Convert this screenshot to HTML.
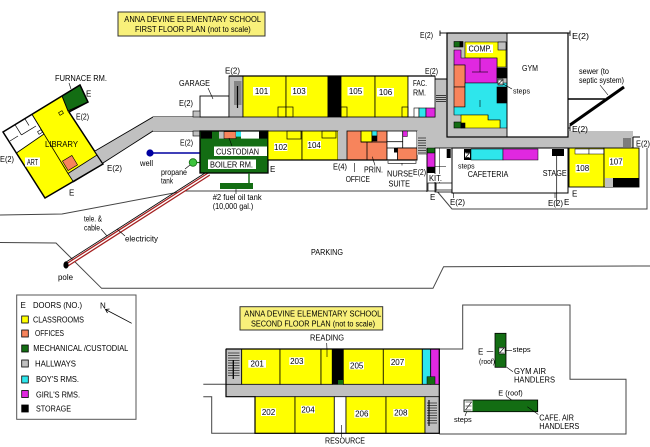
<!DOCTYPE html>
<html><head><meta charset="utf-8">
<style>
html,body{margin:0;padding:0;background:#fff;width:650px;height:447px;overflow:hidden}
svg{display:block}
text{font-family:"Liberation Sans",Arial,sans-serif;font-size:8px;fill:#000}
.s{font-size:7px}
</style></head><body>
<svg width="650" height="447" viewBox="0 0 650 447" xmlns="http://www.w3.org/2000/svg">
<rect width="650" height="447" fill="#fff"/>

<!-- FIRST FLOOR TITLE -->
<rect x="118" y="12" width="147" height="24" fill="#f8f07a" stroke="#333" stroke-width="1"/>
<text x="124.3" y="22" textLength="136.7" lengthAdjust="spacingAndGlyphs">ANNA DEVINE ELEMENTARY SCHOOL</text>
<text x="135" y="32" textLength="115.7" lengthAdjust="spacingAndGlyphs">FIRST FLOOR PLAN (not to scale)</text>

<!-- SITE LINES -->
<polyline points="0,215 62,214 184.5,191 427,191" fill="none" stroke="#444" stroke-width="1"/>
<polyline points="0,242.5 56,243 101.6,288.3 433,288.3 443.6,266.7 650,266" fill="none" stroke="#444" stroke-width="1"/>
<polyline points="647,148 647,209 452,209 436,190" fill="none" stroke="#444" stroke-width="1"/>

<!-- ELECTRIC / TELE LINE -->
<line x1="67" y1="265" x2="209" y2="174" stroke="#a52020" stroke-width="4"/>
<line x1="67" y1="265" x2="209" y2="174" stroke="#fff" stroke-width="1.4"/>
<line x1="65.4" y1="262.5" x2="207.4" y2="171.5" stroke="#000" stroke-width="0.8"/>
<ellipse cx="66" cy="265" rx="2.6" ry="3.6" fill="#000"/>
<text x="58" y="280" textLength="15" lengthAdjust="spacingAndGlyphs">pole</text>
<text x="84" y="221.5" textLength="18" lengthAdjust="spacingAndGlyphs">tele. &amp;</text>
<text x="84" y="230.5" textLength="16" lengthAdjust="spacingAndGlyphs">cable</text>
<line x1="101" y1="229" x2="107" y2="236" stroke="#000" stroke-width="0.6"/>
<text x="125" y="241.5" textLength="33" lengthAdjust="spacingAndGlyphs">electricity</text>
<line x1="117" y1="229" x2="125" y2="236" stroke="#000" stroke-width="0.6"/>
<text x="311" y="255" textLength="32" lengthAdjust="spacingAndGlyphs">PARKING</text>

<!-- LEFT WING: LIBRARY / ART -->
<polygon points="3,132 80,85 88,102 69,112 103,164 45,198" fill="#ff0"/>
<polygon points="3,132 32,114.3 44,134 16.4,153" fill="#fff" stroke="#000" stroke-width="0.8"/>
<line x1="15" y1="124.7" x2="21.4" y2="134.9" stroke="#000" stroke-width="0.7"/>
<line x1="21.4" y1="134.9" x2="36" y2="126" stroke="#000" stroke-width="0.7"/>
<line x1="25" y1="118.9" x2="29" y2="125.5" stroke="#000" stroke-width="0.7"/>
<line x1="10" y1="141" x2="18" y2="136" stroke="#000" stroke-width="0.7"/>
<rect x="-2" y="-1.5" width="4" height="3" transform="translate(40,132) rotate(-31)" fill="none" stroke="#000" stroke-width="0.6"/>
<rect x="-2" y="-1.5" width="4" height="3" transform="translate(61,113) rotate(-31)" fill="none" stroke="#000" stroke-width="0.6"/>
<line x1="32" y1="114.3" x2="68" y2="173.5" stroke="#000" stroke-width="0.8"/>
<polygon points="68,173.5 97,155 103,164 73.5,182" fill="#c0c0c0" stroke="#000" stroke-width="0.8"/>
<rect x="-5.5" y="-5.5" width="11" height="11" transform="translate(70,163) rotate(-31)" fill="#f7845c" stroke="#000" stroke-width="0.6"/>
<polygon points="62,96 80,85 88,102 68,111" fill="#136d13" stroke="#000" stroke-width="1"/>
<polygon points="3,132 80,85 88,102 69,112 103,164 45,198" fill="none" stroke="#000" stroke-width="1.5"/>
<text x="45" y="147" textLength="33" lengthAdjust="spacingAndGlyphs">LIBRARY</text>
<rect x="25" y="157.5" width="15" height="9" fill="#fff"/>
<text x="27" y="165" textLength="11" lengthAdjust="spacingAndGlyphs">ART</text>
<text x="55" y="81" textLength="52" lengthAdjust="spacingAndGlyphs">FURNACE RM.</text>
<line x1="69" y1="83" x2="71" y2="89" stroke="#000" stroke-width="0.6"/>
<text x="86" y="96.5">E</text>
<text x="76" y="119.5" textLength="13" lengthAdjust="spacingAndGlyphs">E(2)</text>
<text x="0" y="162" textLength="14" lengthAdjust="spacingAndGlyphs">E(2)</text>
<text x="69" y="195.5">E</text>
<text x="107" y="171" textLength="15" lengthAdjust="spacingAndGlyphs">E(2)</text>

<!-- CORRIDOR & HALLWAYS -->
<polygon points="95,151 153,117 200,117 200,131 153,131 103,163" fill="#c0c0c0"/>
<polyline points="95,151 153,117 200,117" fill="none" stroke="#000" stroke-width="0.9"/>
<polyline points="103,163 153,131 200,131" fill="none" stroke="#000" stroke-width="0.9"/>
<rect x="153" y="117" width="295" height="14" fill="#c0c0c0"/>
<rect x="427" y="131" width="206" height="17" fill="#c0c0c0"/>
<rect x="435" y="79" width="13" height="52" fill="#c0c0c0"/>
<polyline points="435,76 435,79 447,79" fill="none" stroke="#000" stroke-width="0.9"/>
<g stroke="#000" stroke-width="0.7">
<line x1="436" y1="95.5" x2="446" y2="95.5"/><line x1="436" y1="97.5" x2="446" y2="97.5"/>
<line x1="436" y1="99.5" x2="446" y2="99.5"/><line x1="436" y1="101.5" x2="446" y2="101.5"/>
<line x1="624" y1="138" x2="624" y2="147"/><line x1="626" y1="138" x2="626" y2="147"/>
<line x1="628" y1="138" x2="628" y2="147"/><line x1="630" y1="138" x2="630" y2="147"/>
</g>
<line x1="633" y1="137" x2="633" y2="148" stroke="#000" stroke-width="1"/>
<line x1="633" y1="137" x2="640" y2="137" stroke="#000" stroke-width="1"/>

<!-- well / propane -->
<line x1="153" y1="153" x2="200" y2="153" stroke="#0000a0" stroke-width="1.5"/>
<circle cx="150" cy="153" r="3.6" fill="#0000a0"/>
<line x1="196" y1="162.5" x2="200" y2="162.5" stroke="#136d13" stroke-width="1.2"/>
<circle cx="193" cy="162.5" r="3.8" fill="#3cc43c" stroke="#136d13" stroke-width="0.8"/>
<text x="140" y="166" textLength="13" lengthAdjust="spacingAndGlyphs">well</text>
<text x="161" y="175" textLength="26" lengthAdjust="spacingAndGlyphs">propane</text>
<text x="161" y="183.5" textLength="12" lengthAdjust="spacingAndGlyphs">tank</text>
<line x1="185" y1="169" x2="190" y2="165" stroke="#000" stroke-width="0.6"/>

<!-- GARAGE -->
<rect x="200" y="96" width="29" height="21" fill="#fff" stroke="#000" stroke-width="0.9"/>
<rect x="193" y="111" width="7" height="6" fill="#c0c0c0" stroke="#000" stroke-width="0.6"/>
<rect x="193" y="131" width="7" height="5" fill="#c0c0c0" stroke="#000" stroke-width="0.6"/>
<text x="179" y="86" textLength="31" lengthAdjust="spacingAndGlyphs">GARAGE</text>
<line x1="208" y1="88" x2="213" y2="99" stroke="#000" stroke-width="0.6"/>
<text x="179" y="106" textLength="14" lengthAdjust="spacingAndGlyphs">E(2)</text>
<text x="180" y="145.5" textLength="13" lengthAdjust="spacingAndGlyphs">E(2)</text>
<text x="225" y="73.5" textLength="15" lengthAdjust="spacingAndGlyphs">E(2)</text>

<!-- TOP ROOMS -->
<rect x="229" y="76" width="14" height="41" fill="#c0c0c0" stroke="#000" stroke-width="0.8"/>
<g stroke="#000" stroke-width="0.6">
<line x1="234" y1="82" x2="241.5" y2="82"/><line x1="234" y1="84" x2="241.5" y2="84"/>
<line x1="234" y1="86" x2="241.5" y2="86"/><line x1="234" y1="88" x2="241.5" y2="88"/>
<line x1="234" y1="90" x2="241.5" y2="90"/><line x1="234" y1="92" x2="241.5" y2="92"/>
<line x1="234" y1="94" x2="241.5" y2="94"/><line x1="234" y1="96" x2="241.5" y2="96"/>
<line x1="234" y1="98" x2="241.5" y2="98"/><line x1="234" y1="100" x2="241.5" y2="100"/>
<line x1="234" y1="102" x2="241.5" y2="102"/><line x1="234" y1="104" x2="241.5" y2="104"/>
</g>
<line x1="237.5" y1="86" x2="237.5" y2="108" stroke="#000" stroke-width="1.2"/>
<g stroke="#000" stroke-width="0.8">
<rect x="243" y="76" width="43" height="41" fill="#ff0"/>
<rect x="286" y="76" width="42" height="41" fill="#ff0"/>
<rect x="328" y="76" width="13" height="41" fill="#000"/>
<rect x="341" y="76" width="34" height="41" fill="#ff0"/>
<rect x="375" y="76" width="33" height="41" fill="#ff0"/>
<rect x="408" y="76" width="27" height="41" fill="#fff"/>
<rect x="278" y="107" width="15" height="10" fill="none" stroke-width="0.7"/>
<rect x="341" y="107" width="6" height="10" fill="none" stroke-width="0.7"/>
<rect x="402" y="107" width="6" height="10" fill="none" stroke-width="0.7"/>
<rect x="414" y="108" width="5" height="9" fill="#fff" stroke-width="0.6"/>
<rect x="419" y="108" width="7" height="9" fill="#2ee6ec" stroke-width="0.6"/>
<rect x="426" y="108" width="9" height="9" fill="#e028e0" stroke-width="0.6"/>
</g>
<line x1="229" y1="76" x2="435" y2="76" stroke="#000" stroke-width="1.2"/>
<rect x="253" y="87" width="17" height="8.5" fill="#fff"/>
<text x="261.5" y="94" text-anchor="middle">101</text>
<rect x="291" y="87" width="16" height="8.5" fill="#fff"/>
<text x="299" y="94" text-anchor="middle">103</text>
<rect x="347.5" y="87" width="16" height="8.5" fill="#fff"/>
<text x="355.5" y="94" text-anchor="middle">105</text>
<rect x="377" y="88" width="17" height="8.5" fill="#fff"/>
<text x="385.5" y="95" text-anchor="middle">106</text>
<text x="413" y="86" textLength="14" lengthAdjust="spacingAndGlyphs">FAC.</text>
<text x="413" y="95.5" textLength="13" lengthAdjust="spacingAndGlyphs">RM.</text>
<text x="425" y="74" textLength="13" lengthAdjust="spacingAndGlyphs">E(2)</text>

<!-- BOILER ROOM -->
<rect x="200" y="131" width="68" height="42" fill="#136d13" stroke="#000" stroke-width="1.3"/>
<rect x="201" y="131.6" width="11" height="7" fill="#000"/>
<rect x="219" y="131.6" width="5" height="7" fill="#c0c0c0"/>
<rect x="224" y="131.6" width="12" height="7" fill="#f7845c" stroke="#000" stroke-width="0.5"/>
<rect x="236" y="131.6" width="5" height="5" fill="#2ee6ec"/>
<rect x="241" y="131.6" width="18" height="7" fill="#fff"/>
<rect x="259" y="131.6" width="8.4" height="7" fill="#000"/>
<line x1="229" y1="138" x2="232" y2="146" stroke="#000" stroke-width="0.6"/>
<rect x="214" y="146.5" width="53" height="9.5" fill="#fff"/>
<text x="216" y="154.5" textLength="43" lengthAdjust="spacingAndGlyphs">CUSTODIAN</text>
<rect x="208" y="159.5" width="48" height="9.5" fill="#fff"/>
<text x="210" y="167.5" textLength="43" lengthAdjust="spacingAndGlyphs">BOILER RM.</text>
<line x1="249" y1="173" x2="249" y2="183" stroke="#136d13" stroke-width="1.5"/>
<rect x="220" y="183" width="33" height="6" fill="#136d13"/>
<line x1="236" y1="189" x2="236" y2="194" stroke="#000" stroke-width="0.6"/>
<text x="212.7" y="200" textLength="49" lengthAdjust="spacingAndGlyphs">#2 fuel oil tank</text>
<text x="212.7" y="209" textLength="40.6" lengthAdjust="spacingAndGlyphs">(10,000 gal.)</text>
<text x="270" y="172">E</text>

<!-- BOTTOM ROOMS -->
<g stroke="#000" stroke-width="0.8">
<rect x="268" y="131" width="34" height="29" fill="#ff0"/>
<rect x="302" y="131" width="36" height="29" fill="#ff0"/>
<rect x="287" y="131" width="14" height="8" fill="none" stroke-width="0.7"/>
<rect x="322" y="131" width="14" height="7" fill="none" stroke-width="0.7"/>
<rect x="338" y="131" width="9" height="29" fill="#c0c0c0" stroke="none"/>
<rect x="347" y="131" width="40" height="29" fill="#f7845c"/>
<rect x="361" y="131" width="11" height="11" fill="#ff0"/>
<rect x="372" y="131" width="5" height="5" fill="#2ee6ec" stroke-width="0.5"/>
<rect x="372" y="136" width="5" height="5" fill="#000" stroke-width="0.5"/>
<line x1="361" y1="142" x2="387" y2="142"/>
<line x1="367" y1="142" x2="367" y2="160"/>
<rect x="387" y="131" width="30" height="29" fill="#fff"/>
<rect x="402.7" y="131" width="4.6" height="5.5" fill="#e028e0" stroke-width="0.5"/>
<line x1="387" y1="148" x2="417" y2="148"/>
<line x1="402.7" y1="131" x2="402.7" y2="148"/>
<line x1="387" y1="141.7" x2="402.7" y2="141.7"/>
<rect x="397.5" y="148" width="19.5" height="12" fill="#f7845c"/>
<rect x="394" y="148" width="3.5" height="4.5" fill="#000" stroke="none"/>
<rect x="417" y="131" width="10" height="24" fill="#c0c0c0" stroke="none"/>
</g>
<g stroke="#000" stroke-width="0.6">
<line x1="418" y1="138" x2="426" y2="138"/><line x1="418" y1="140.5" x2="426" y2="140.5"/>
<line x1="418" y1="143" x2="426" y2="143"/><line x1="418" y1="145.5" x2="426" y2="145.5"/>
<line x1="418" y1="148" x2="426" y2="148"/><line x1="418" y1="150.5" x2="426" y2="150.5"/>
<line x1="418" y1="153" x2="426" y2="153"/>
</g>
<line x1="268" y1="160" x2="417" y2="160" stroke="#000" stroke-width="1.2"/>
<rect x="274" y="143" width="13.5" height="8" fill="#fff"/>
<text x="280.7" y="150" text-anchor="middle">102</text>
<rect x="307.5" y="141" width="13.5" height="8" fill="#fff"/>
<text x="314.2" y="148" text-anchor="middle">104</text>
<text x="333" y="169.5" textLength="14" lengthAdjust="spacingAndGlyphs">E(4)</text>
<line x1="354.3" y1="163" x2="354.3" y2="172" stroke="#000" stroke-width="0.6"/>
<text x="345.7" y="182" textLength="24.3" lengthAdjust="spacingAndGlyphs">OFFICE</text>
<line x1="372.3" y1="156.7" x2="375" y2="165.5" stroke="#000" stroke-width="0.6"/>
<text x="364" y="172.5" textLength="19" lengthAdjust="spacingAndGlyphs">PRIN.</text>
<polyline points="388,161 388,163.3 416,163.3 416,161" fill="none" stroke="#000" stroke-width="0.6"/>
<line x1="402" y1="163.3" x2="402" y2="165.5" stroke="#000" stroke-width="0.6"/>
<text x="387" y="176.5" textLength="26" lengthAdjust="spacingAndGlyphs">NURSE</text>
<text x="388.5" y="186.5" textLength="21.5" lengthAdjust="spacingAndGlyphs">SUITE</text>
<text x="413" y="175" textLength="13" lengthAdjust="spacingAndGlyphs">E(2)</text>

<!-- KITCHEN -->
<rect x="427" y="148" width="8" height="5" fill="#136d13" stroke="#000" stroke-width="0.5"/>
<rect x="427" y="153" width="8" height="14" fill="#e028e0" stroke="#000" stroke-width="0.5"/>
<rect x="427" y="167" width="8" height="6" fill="#000"/>
<rect x="435" y="148" width="17" height="44" fill="#fff" stroke="#000" stroke-width="0.8"/>
<line x1="439.3" y1="148" x2="439.3" y2="183" stroke="#000" stroke-width="0.5"/>
<line x1="435" y1="166.7" x2="446" y2="166.7" stroke="#000" stroke-width="0.5"/>
<rect x="446.7" y="149" width="4" height="9" fill="#000"/>
<rect x="428" y="174" width="15" height="8" fill="#fff"/>
<text x="429" y="181" textLength="13" lengthAdjust="spacingAndGlyphs">KIT.</text>
<rect x="428" y="183" width="8" height="8" fill="none" stroke="#000" stroke-width="0.7"/>
<rect x="436" y="183" width="16" height="7" fill="none" stroke="#000" stroke-width="0.7"/>
<line x1="427" y1="148" x2="427" y2="192" stroke="#000" stroke-width="0.9"/>
<text x="430" y="200">E</text>

<!-- CAFETERIA -->
<rect x="452" y="148" width="116" height="45" fill="#fff" stroke="#000" stroke-width="1"/>
<rect x="464" y="149" width="7" height="11" fill="#000"/>
<rect x="465" y="152.5" width="5" height="5.5" fill="#fff"/>
<path d="M465.5,153 L469.5,153 L465.5,157.5 L469.5,157.5" fill="none" stroke="#000" stroke-width="0.7"/>
<rect x="471" y="149" width="32" height="11" fill="#2ee6ec" stroke="#000" stroke-width="0.5"/>
<rect x="503" y="149" width="35" height="11" fill="#e028e0" stroke="#000" stroke-width="0.5"/>
<rect x="552" y="149" width="12" height="7" fill="#000"/>
<line x1="556.7" y1="156" x2="556.7" y2="206" stroke="#000" stroke-width="0.7"/>
<text class="s" x="458" y="168.5" textLength="16.6" lengthAdjust="spacingAndGlyphs">steps</text>
<text x="467.7" y="177" textLength="40.6" lengthAdjust="spacingAndGlyphs">CAFETERIA</text>
<text x="542.7" y="176" textLength="24" lengthAdjust="spacingAndGlyphs">STAGE</text>
<line x1="453.5" y1="193" x2="453.5" y2="198" stroke="#000" stroke-width="0.6"/>
<line x1="555" y1="193" x2="555" y2="198" stroke="#000" stroke-width="0.6"/>
<text x="450" y="205" textLength="15" lengthAdjust="spacingAndGlyphs">E(2)</text>
<text x="548" y="206" textLength="15" lengthAdjust="spacingAndGlyphs">E(2)</text>
<text x="564" y="205">E</text>
<text x="572" y="196.5">E</text>

<!-- 108 / 107 -->
<rect x="569" y="148" width="35" height="39" fill="#ff0" stroke="#000" stroke-width="0.9"/>
<rect x="575" y="149" width="14" height="5" fill="#fff" stroke="#000" stroke-width="0.5"/>
<rect x="589" y="149" width="15" height="5" fill="#fff" stroke="#000" stroke-width="0.5"/>
<rect x="604" y="148" width="35" height="39" fill="#ff0" stroke="#000" stroke-width="0.9"/>
<rect x="605" y="178" width="8" height="9" fill="#c0c0c0"/>
<rect x="613" y="178" width="26" height="9" fill="#000"/>
<rect x="575.5" y="164" width="14" height="8.5" fill="#fff"/>
<text x="582.5" y="171" text-anchor="middle">108</text>
<rect x="609" y="157.5" width="14" height="8.5" fill="#fff"/>
<text x="616" y="164.5" text-anchor="middle">107</text>
<text x="636" y="146.5" textLength="14" lengthAdjust="spacingAndGlyphs">E(2)</text>

<!-- GYM WING -->
<rect x="447" y="33" width="60" height="104" fill="#c0c0c0"/>
<rect x="507" y="33" width="61" height="104" fill="#fff"/>
<g stroke="#000" stroke-width="0.6">
<rect x="454" y="41.5" width="6" height="5.5" fill="#136d13"/>
<rect x="460" y="41.5" width="3" height="5.5" fill="#000"/>
<polygon points="465,42 506,42 506,67 497,67 497,58 465,58" fill="#ff0"/>
<rect x="498" y="42" width="8" height="8" fill="#c0c0c0"/>
<polygon points="454,50 461,50 461,58 497,58 497,83 465,83 465,65 454,65" fill="#e028e0"/>
<line x1="480" y1="58" x2="480" y2="72"/><line x1="472" y1="72" x2="488" y2="72"/>
<rect x="454" y="65" width="11" height="22" fill="#f7845c"/>
<rect x="454" y="87" width="11" height="20" fill="#f7845c"/>
<polygon points="465,83 507,83 507,128 500,128 500,120 488,120 488,115 454,115 454,107 465,107" fill="#2ee6ec"/>
<line x1="480" y1="100" x2="480" y2="107"/>
<polygon points="461,115 488,115 488,120 500,120 500,128 461,128" fill="#ff0"/>
<rect x="497" y="68" width="10" height="10" fill="#000"/>
<rect x="497" y="87" width="10" height="16" fill="#000"/>
<rect x="498" y="79" width="5" height="6" fill="#fff"/>
<rect x="454" y="122" width="7" height="6" fill="#136d13"/>
<rect x="461" y="123" width="4" height="5" fill="#000"/>
</g>
<path d="M498.5,80 L502.5,80 L498.5,84 L502.5,84" fill="none" stroke="#000" stroke-width="0.6"/>
<rect x="447" y="33" width="121" height="104" fill="none" stroke="#000" stroke-width="1.2"/>
<line x1="507" y1="33" x2="507" y2="137" stroke="#000" stroke-width="0.9"/>
<rect x="467" y="44.5" width="26" height="8.5" fill="#fff"/>
<text x="468.5" y="51.5" textLength="23" lengthAdjust="spacingAndGlyphs">COMP.</text>
<text x="522" y="71" textLength="16" lengthAdjust="spacingAndGlyphs">GYM</text>
<line x1="503" y1="84" x2="512" y2="89" stroke="#000" stroke-width="0.6"/>
<text class="s" x="513" y="93.5" textLength="17" lengthAdjust="spacingAndGlyphs">steps</text>
<g stroke="#000" stroke-width="0.9">
<line x1="440" y1="33" x2="447" y2="33"/><line x1="440" y1="30.5" x2="440" y2="36"/>
<line x1="568" y1="33" x2="570" y2="33"/><line x1="570" y1="30.5" x2="570" y2="36"/>
<line x1="568" y1="128" x2="570" y2="128"/><line x1="570" y1="125" x2="570" y2="131"/>
</g>
<text x="420" y="38" textLength="13" lengthAdjust="spacingAndGlyphs">E(2)</text>
<text x="572" y="39" textLength="17" lengthAdjust="spacingAndGlyphs">E(2)</text>
<text x="572" y="132" textLength="16" lengthAdjust="spacingAndGlyphs">E(2)</text>
<line x1="568" y1="99" x2="605" y2="99" stroke="#000" stroke-width="1.5"/>
<line x1="570" y1="125" x2="624" y2="87" stroke="#000" stroke-width="3"/>
<line x1="600" y1="85" x2="608" y2="95" stroke="#000" stroke-width="0.6"/>
<text x="579" y="74" textLength="30" lengthAdjust="spacingAndGlyphs">sewer (to</text>
<text x="579" y="83" textLength="45" lengthAdjust="spacingAndGlyphs">septic system)</text>

<!-- LEGEND -->
<rect x="16.7" y="295" width="119.3" height="124.3" fill="#fff" stroke="#555" stroke-width="1"/>
<text x="20.5" y="308">E</text>
<text x="33" y="308" textLength="49" lengthAdjust="spacingAndGlyphs">DOORS (NO.)</text>
<text x="100" y="308.5">N</text>
<line x1="131.7" y1="323.3" x2="105.5" y2="309.5" stroke="#000" stroke-width="0.8"/>
<polyline points="109.5,309 105.5,309.5 107.5,313" fill="none" stroke="#000" stroke-width="0.8"/>
<g stroke="#000" stroke-width="0.8">
<rect x="21.7" y="316" width="6.6" height="7" fill="#ff0"/>
<rect x="21.7" y="330" width="6.6" height="7" fill="#f7845c"/>
<rect x="21.7" y="345" width="6.6" height="7" fill="#136d13"/>
<rect x="21.7" y="360" width="6.6" height="7" fill="#c0c0c0"/>
<rect x="21.7" y="376" width="6.6" height="7" fill="#2ee6ec"/>
<rect x="21.7" y="390.5" width="6.6" height="7" fill="#e028e0"/>
<rect x="21.7" y="405" width="6.6" height="7" fill="#000"/>
</g>
<text x="33" y="322.5" textLength="51" lengthAdjust="spacingAndGlyphs">CLASSROOMS</text>
<text x="35" y="336" textLength="29" lengthAdjust="spacingAndGlyphs">OFFICES</text>
<text x="33.3" y="351" textLength="95" lengthAdjust="spacingAndGlyphs">MECHANICAL /CUSTODIAL</text>
<text x="35" y="366.5" textLength="41" lengthAdjust="spacingAndGlyphs">HALLWAYS</text>
<text x="36" y="382" textLength="43" lengthAdjust="spacingAndGlyphs">BOY'S RMS.</text>
<text x="36" y="397.5" textLength="44" lengthAdjust="spacingAndGlyphs">GIRL'S RMS.</text>
<text x="36" y="411.5" textLength="35" lengthAdjust="spacingAndGlyphs">STORAGE</text>

<!-- SECOND FLOOR -->
<rect x="240" y="306.7" width="142.7" height="23.3" fill="#f8f07a" stroke="#333" stroke-width="1"/>
<text x="244.3" y="316.5" textLength="137" lengthAdjust="spacingAndGlyphs">ANNA DEVINE ELEMENTARY SCHOOL</text>
<text x="251" y="326.5" textLength="124" lengthAdjust="spacingAndGlyphs">SECOND FLOOR PLAN (not to scale)</text>
<text x="310" y="340.7" textLength="34" lengthAdjust="spacingAndGlyphs">READING</text>
<line x1="326.7" y1="343" x2="327.3" y2="357" stroke="#000" stroke-width="0.6"/>

<polyline points="203.3,384.3 226,384.3" fill="none" stroke="#444" stroke-width="1"/>
<polyline points="203.3,396.7 211.7,396.7 211.7,433.3 255,433.3" fill="none" stroke="#444" stroke-width="1"/>
<polyline points="439.3,349 462.7,349 462.7,305 570,305 570,379.3 626,379.3 626,434 439.3,434" fill="none" stroke="#444" stroke-width="1"/>

<rect x="226" y="349" width="213.3" height="47.7" fill="#c0c0c0"/>
<g stroke="#000" stroke-width="0.8">
<rect x="226" y="349" width="15.7" height="35.3" fill="#c0c0c0"/>
<rect x="241.7" y="349" width="38.3" height="35.3" fill="#ff0"/>
<rect x="280" y="349" width="41" height="35.3" fill="#ff0"/>
<rect x="321" y="349" width="11.3" height="35.3" fill="#ff0"/>
<rect x="332.3" y="349" width="11" height="35.3" fill="#000"/>
<rect x="343.3" y="349" width="40" height="35.3" fill="#ff0"/>
<rect x="383.3" y="349" width="39" height="35.3" fill="#ff0"/>
<rect x="422.3" y="349" width="8.4" height="35.3" fill="#2ee6ec"/>
<rect x="430.7" y="349" width="8.6" height="35.3" fill="#e028e0"/>
<rect x="255" y="396.7" width="40" height="36.6" fill="#ff0"/>
<rect x="295" y="396.7" width="39.3" height="36.6" fill="#ff0"/>
<rect x="334.3" y="396.7" width="11.7" height="36.6" fill="#fff"/>
<rect x="346" y="396.7" width="40" height="36.6" fill="#ff0"/>
<rect x="386" y="396.7" width="39" height="36.6" fill="#ff0"/>
<rect x="425" y="396.7" width="14.3" height="36.6" fill="#c0c0c0"/>
</g>
<rect x="338" y="380" width="5" height="4.3" fill="#136d13"/>
<rect x="427" y="376.7" width="8" height="7.6" fill="#136d13" stroke="#000" stroke-width="0.5"/>
<line x1="327" y1="349" x2="327" y2="357" stroke="#000" stroke-width="0.6"/>
<line x1="341.7" y1="425" x2="341.7" y2="437" stroke="#000" stroke-width="0.6"/>
<g stroke="#000" stroke-width="0.6">
<line x1="228" y1="353" x2="239.5" y2="353"/><line x1="228" y1="355.5" x2="239.5" y2="355.5"/>
<line x1="228" y1="358" x2="239.5" y2="358"/><line x1="228" y1="360.5" x2="239.5" y2="360.5"/>
<line x1="228" y1="363" x2="239.5" y2="363"/><line x1="228" y1="365.5" x2="239.5" y2="365.5"/>
<line x1="228" y1="368" x2="239.5" y2="368"/><line x1="228" y1="370.5" x2="239.5" y2="370.5"/>
<line x1="228" y1="373" x2="239.5" y2="373"/><line x1="228" y1="375.5" x2="239.5" y2="375.5"/>
<line x1="427" y1="403" x2="437" y2="403"/><line x1="427" y1="405.5" x2="437" y2="405.5"/>
<line x1="427" y1="408" x2="437" y2="408"/><line x1="427" y1="410.5" x2="437" y2="410.5"/>
<line x1="427" y1="413" x2="437" y2="413"/><line x1="427" y1="415.5" x2="437" y2="415.5"/>
<line x1="427" y1="418" x2="437" y2="418"/><line x1="427" y1="420.5" x2="437" y2="420.5"/>
<line x1="427" y1="423" x2="437" y2="423"/>
</g>
<line x1="233.3" y1="360" x2="233.3" y2="379" stroke="#000" stroke-width="1.3"/>
<line x1="429" y1="400" x2="429" y2="426" stroke="#000" stroke-width="1.1"/>
<polyline points="226,349 439.3,349 439.3,433.3 255,433.3 255,396.7 226,396.7 226,349" fill="none" stroke="#000" stroke-width="1.2"/>
<rect x="248.3" y="360" width="17.7" height="7.7" fill="#fff"/>
<text x="257.2" y="366.5" text-anchor="middle">201</text>
<rect x="289.3" y="357.3" width="15" height="7.7" fill="#fff"/>
<text x="296.8" y="364" text-anchor="middle">203</text>
<rect x="349.3" y="361.7" width="14.7" height="7.7" fill="#fff"/>
<text x="356.7" y="368.3" text-anchor="middle">205</text>
<rect x="390" y="358.3" width="15" height="7.7" fill="#fff"/>
<text x="397.5" y="365" text-anchor="middle">207</text>
<rect x="261" y="408.3" width="15" height="7.7" fill="#fff"/>
<text x="268.5" y="415" text-anchor="middle">202</text>
<rect x="301" y="405.7" width="14" height="7.7" fill="#fff"/>
<text x="308" y="412.4" text-anchor="middle">204</text>
<rect x="354.3" y="410" width="15" height="7.7" fill="#fff"/>
<text x="361.8" y="416.7" text-anchor="middle">206</text>
<rect x="393.3" y="409" width="15" height="7.7" fill="#fff"/>
<text x="400.8" y="415.7" text-anchor="middle">208</text>
<text x="325" y="443.7" textLength="40" lengthAdjust="spacingAndGlyphs">RESOURCE</text>

<!-- ROOF AIR HANDLERS -->
<rect x="495" y="333.3" width="11" height="34" fill="#136d13" stroke="#000" stroke-width="0.8"/>
<rect x="499" y="347.3" width="6" height="6.7" fill="#fff" stroke="#000" stroke-width="0.5"/>
<path d="M499.5,348 L504,348 L499.5,353 L504,353" fill="none" stroke="#000" stroke-width="0.6"/>
<line x1="505" y1="350.5" x2="512" y2="350.5" stroke="#000" stroke-width="0.6"/>
<text class="s" x="512.7" y="352" textLength="18" lengthAdjust="spacingAndGlyphs">steps</text>
<text x="478" y="354.7">E</text>
<line x1="486.7" y1="351.7" x2="493.3" y2="351.7" stroke="#000" stroke-width="0.6"/>
<text class="s" x="479" y="364" textLength="16" lengthAdjust="spacingAndGlyphs">(roof)</text>
<line x1="506.7" y1="367.3" x2="513" y2="371.7" stroke="#000" stroke-width="0.6"/>
<text x="514" y="374" textLength="32" lengthAdjust="spacingAndGlyphs">GYM AIR</text>
<text x="514" y="382.3" textLength="41" lengthAdjust="spacingAndGlyphs">HANDLERS</text>
<rect x="464" y="400" width="73.7" height="11.7" fill="#136d13" stroke="#000" stroke-width="0.8"/>
<rect x="464.5" y="400.5" width="8" height="10.7" fill="#fff"/>
<path d="M465.5,402 L471.5,402 L465.5,410 L471.5,410 M465.5,406 L471.5,406" fill="none" stroke="#000" stroke-width="0.6"/>
<line x1="466.7" y1="411.7" x2="465" y2="416" stroke="#000" stroke-width="0.6"/>
<text class="s" x="454" y="422" textLength="17.7" lengthAdjust="spacingAndGlyphs">steps</text>
<text class="s" x="498.3" y="395.7" textLength="24.4" lengthAdjust="spacingAndGlyphs">E (roof)</text>
<line x1="506.7" y1="396.5" x2="511.7" y2="400" stroke="#000" stroke-width="0.6"/>
<line x1="527.3" y1="406.7" x2="538.3" y2="414.5" stroke="#000" stroke-width="0.6"/>
<text x="539.3" y="420.7" textLength="34.7" lengthAdjust="spacingAndGlyphs">CAFE. AIR</text>
<text x="539.3" y="429" textLength="40" lengthAdjust="spacingAndGlyphs">HANDLERS</text>
</svg>
</body></html>
